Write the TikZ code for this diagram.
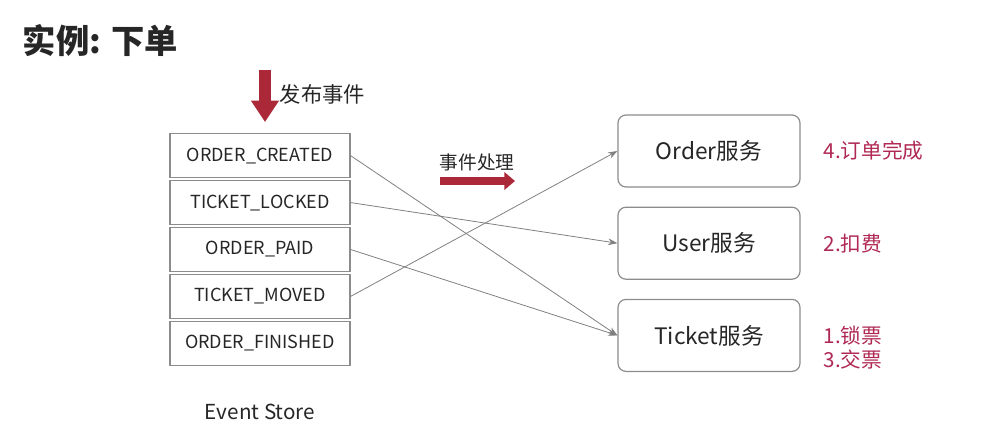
\documentclass[tikz,border=0pt]{standalone}
\usepackage{fontspec}
\setmainfont{Noto Sans CJK SC}
\usetikzlibrary{matrix,positioning,arrows.meta}
\definecolor{evred}{RGB}{170,40,56}
\definecolor{notered}{RGB}{176,40,84}
\definecolor{boxgray}{RGB}{140,140,140}
\definecolor{linegray}{RGB}{128,128,128}

\begin{document}
\begin{tikzpicture}[x=0.75pt,y=-0.75pt,
  every node/.append style={text=black!85},
  service/.style={draw=boxgray, line width=0.9pt, rounded corners=6pt, minimum width=136.5pt, minimum height=54pt, font=\fontsize{17}{20}\selectfont},
  note/.style={text=notered, align=left, font=\fontsize{15.5}{18}\selectfont, inner sep=0pt},
  flow/.style={draw=linegray, line width=0.6pt, -{Stealth[length=7pt,width=5pt]}},
  pubarrow/.style={draw=evred, line width=9pt, -{Triangle[length=16pt,width=20pt]}},
  handlearrow/.style={draw=evred, line width=6.5pt, -{Triangle[length=8pt,width=13pt]}}
]
\useasboundingbox (0,0) rectangle (990,444);

\node[anchor=west, font=\fontsize{25}{29}\selectfont\bfseries] (title) at (18,41) {实例: 下单};

% event store
\matrix[matrix of nodes, row sep=1.1pt,
  nodes={draw=boxgray, line width=0.9pt, minimum width=135pt, minimum height=33.2pt, font=\fontsize{13.5}{16}\selectfont}
] (store) at (260,249.5) {
ORDER\_CREATED \\
TICKET\_LOCKED \\
ORDER\_PAID \\
TICKET\_MOVED \\
ORDER\_FINISHED \\
};
\node[font=\fontsize{15.5}{18}\selectfont] (storename) at (260,412) {Event Store};

\coordinate (pubtop) at (265,70);
\coordinate (pubtip) at (265,122);
\draw[pubarrow] (pubtop) -- (pubtip);
\node[anchor=west, font=\fontsize{16}{19}\selectfont] (publabel) at (275,94) {发布事件};

\coordinate (handlefrom) at (440,181);
\coordinate (handleto) at (515,181);
\draw[handlearrow] (handlefrom) -- (handleto);
\node[font=\fontsize{14}{17}\selectfont] (handlelabel) at (477,162) {事件处理};

% services
\node[service] (order) at (709,151) {Order服务};
\node[service, below=14.25pt of order] (user) {User服务};
\node[service, below=14.25pt of user] (ticket) {Ticket服务};

\node[note, right=17pt of order] (ordernote) {4.订单完成};
\node[note, right=17pt of user] (usernote) {2.扣费};
\node[note, right=17pt of ticket, yshift=-9pt] (ticketnote) {1.锁票\\3.交票};

\draw[flow] (store-1-1.east) -- (ticket.west);
\draw[flow] (store-2-1.east) -- (user.west);
\draw[flow] (store-3-1.east) -- (ticket.west);
\draw[flow] (store-4-1.east) -- (order.west);

\end{tikzpicture}
\end{document}
